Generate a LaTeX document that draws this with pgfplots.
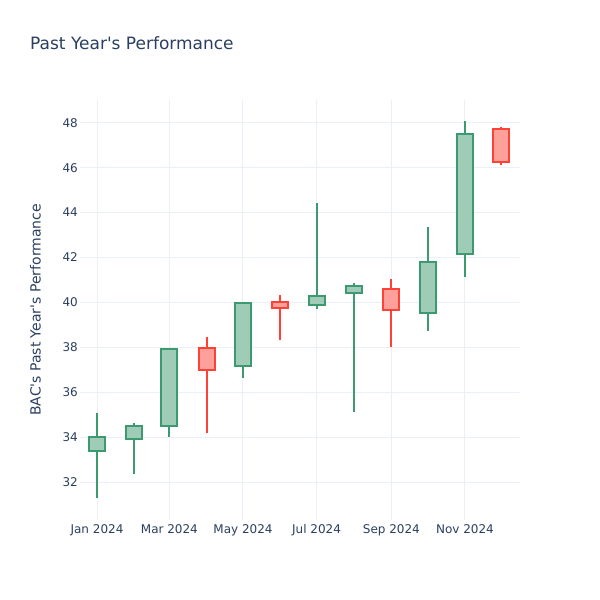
\documentclass[border=0pt]{standalone}
\usepackage{fontspec}
\setmainfont{DejaVu Sans}
\usepackage{pgfplots}
\pgfplotsset{compat=1.18}
\definecolor{inc}{HTML}{3D9970}
\definecolor{dec}{HTML}{FF4136}
\definecolor{txt}{HTML}{2A3F5F}
\definecolor{gridc}{HTML}{EBF0F8}
% #1 date (days since 1 Jan 2024), #2 box left, #3 box right,
% #4 low, #5 box bottom, #6 box top, #7 high, #8 colour
\newcommand{\candle}[8]{%
  \addplot[draw=#8, line width=2bp, forget plot] coordinates {(#1,#4) (#1,#7)};
  \addplot[draw=#8, fill=#8!50, line width=2bp, forget plot]
    coordinates {(#2,#5) (#3,#5) (#3,#6) (#2,#6)} -- cycle;}
\begin{document}
\begin{tikzpicture}
\path (0,0) rectangle (600bp,600bp);
\begin{axis}[at={(80bp,80bp)}, anchor=south west,
  width=440bp, height=420bp, scale only axis,
  xmin=-14.1, xmax=350.6, ymin=30.32, ymax=49.01,
  xtick={0,60,121,182,244,305},
  xticklabels={Jan 2024,Mar 2024,May 2024,Jul 2024,Sep 2024,Nov 2024},
  ytick={32,34,...,48},
  grid=major, major grid style={draw=gridc, line width=1bp},
  axis line style={draw=none}, major tick length=0pt,
  tick label style={font=\fontsize{12bp}{14bp}\selectfont, text=txt},
  /pgf/number format/assume math mode=true,
  yticklabel style={anchor=east, inner sep=0pt, xshift=-2bp},
  xticklabel style={anchor=north, inner sep=0pt, yshift=-4bp},
]
\candle{0}{-6.6}{6.6}{31.28}{33.39}{34.00}{35.07}{inc}
\candle{31}{24.4}{37.6}{32.35}{33.91}{34.52}{34.62}{inc}
\candle{60}{53.4}{66.6}{34.03}{34.52}{37.92}{37.96}{inc}
\candle{91}{84.4}{97.6}{34.18}{37.00}{37.96}{38.48}{dec}
\candle{121}{114.4}{127.6}{36.65}{37.19}{39.99}{40.03}{inc}
\candle{152}{145.4}{158.6}{38.33}{39.77}{40.03}{40.33}{dec}
\candle{182}{175.4}{188.6}{39.69}{39.90}{40.30}{44.41}{inc}
\candle{213}{206.4}{219.6}{35.14}{40.43}{40.75}{40.85}{inc}
\candle{244}{237.4}{250.6}{38.00}{39.66}{40.59}{41.03}{dec}
\candle{274}{267.4}{280.6}{38.74}{39.52}{41.80}{43.34}{inc}
\candle{305}{298.4}{311.6}{41.12}{42.14}{47.51}{48.08}{inc}
\candle{335}{328.4}{341.6}{46.10}{46.24}{47.72}{47.80}{dec}
\end{axis}
\node[anchor=base west, inner sep=0pt, font=\fontsize{17bp}{20bp}\selectfont, text=txt]
  at (30bp,550bp) {Past Year\textquotesingle s Performance};
\node[rotate=90, inner sep=0pt, font=\fontsize{14bp}{17bp}\selectfont, text=txt]
  at (35.5bp,290bp) {BAC\textquotesingle s Past Year\textquotesingle s Performance};
\end{tikzpicture}
\end{document}
